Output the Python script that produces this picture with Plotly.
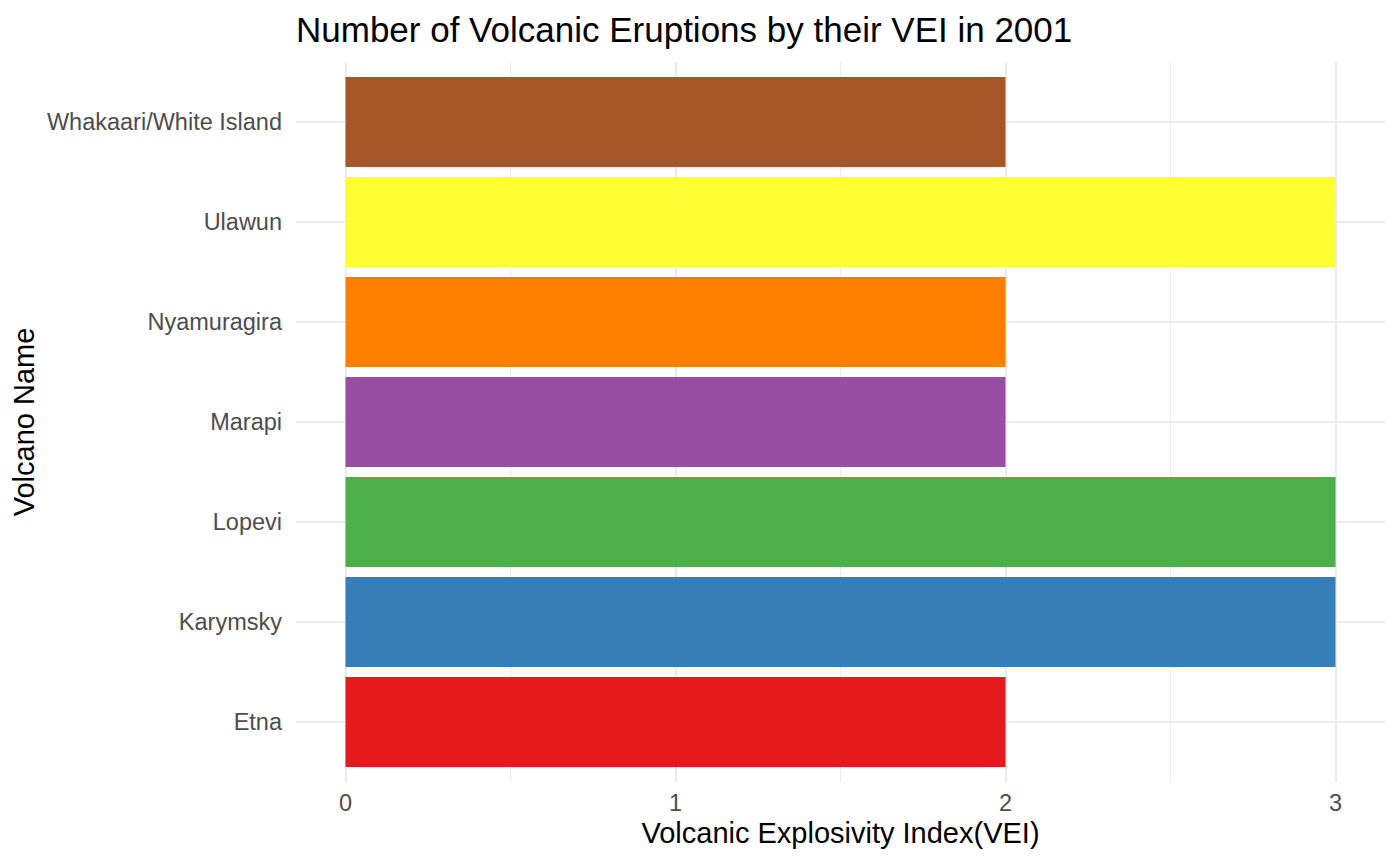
import plotly.graph_objects as go

volcanoes = ["Etna", "Karymsky", "Lopevi", "Marapi", "Nyamuragira", "Ulawun", "Whakaari/White Island"]
vei = [2, 3, 3, 2, 2, 3, 2]
colors = ["#E41A1C", "#377EB8", "#4DAF4A", "#984EA3", "#FF7F00", "#FFFF33", "#A65628"]
x_ticks = [0, 1, 2, 3]

W, H = 1392, 858

fig = go.Figure(go.Bar(
    x=vei, y=volcanoes, orientation="h",
    marker=dict(color=colors, line=dict(width=0)),
    width=0.9, showlegend=False,
))

font_family = "Liberation Sans, Arial, sans-serif"
fig.update_layout(
    width=W, height=H,
    paper_bgcolor="white", plot_bgcolor="white",
    margin=dict(l=288, r=15, t=54, b=84, autoexpand=False),
    font=dict(family=font_family),
    title=dict(text="Number of Volcanic Eruptions by their VEI in 2001",
               x=288/W, xanchor="left", y=1-22/H, yanchor="middle",
               font=dict(size=35, color="black", family=font_family)),
    bargap=0.1,
)
fig.update_xaxes(
    range=[-0.15, 3.15], tickvals=x_ticks, ticktext=[str(t) for t in x_ticks],
    showgrid=True, gridcolor="#EBEBEB", gridwidth=2, zeroline=False,
    minor=dict(dtick=0.5, tick0=0, showgrid=True, gridcolor="#EBEBEB", gridwidth=1),
    ticks="", tickfont=dict(size=23.5, color="#4D4D4D"), ticklabelstandoff=4,
    title=dict(text="Volcanic Explosivity Index(VEI)", font=dict(size=29, color="black"), standoff=8),
    showline=False, automargin=False,
)
fig.update_yaxes(
    range=[-0.6, 6.6], categoryorder="array", categoryarray=volcanoes,
    showgrid=True, gridcolor="#EBEBEB", gridwidth=2, zeroline=False,
    ticks="", tickfont=dict(size=23.5, color="#4D4D4D"), ticklabelstandoff=13,
    title=dict(text="Volcano Name", font=dict(size=29, color="black"), standoff=5),
    showline=False, automargin=False,
)
fig.write_html("out.html")
